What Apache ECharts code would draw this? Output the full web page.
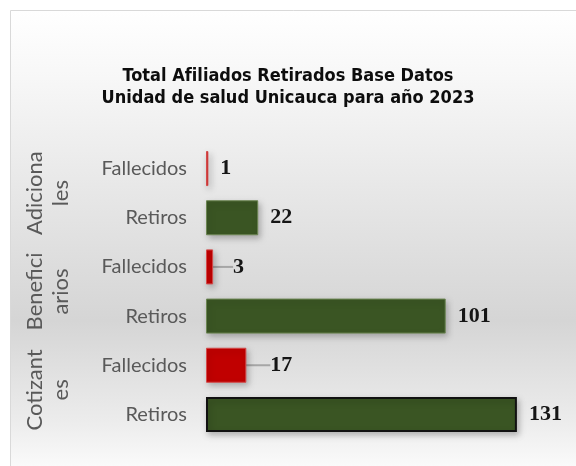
<!DOCTYPE html>
<html lang="es">
<head>
    <meta charset="UTF-8">
    <title>Total Afiliados Retirados</title>
    <style>
        html, body { margin: 0; padding: 0; background: #ffffff; }
    </style>
</head>
<body>
<div id="main" style="width: 576px;height:466px;"></div>
<script type="text/javascript" src="https://cdn.jsdelivr.net/npm/echarts@6/dist/echarts.min.js"></script>
<script>
    // datos (de abajo hacia arriba)
    var categorias = ['Retiros', 'Fallecidos', 'Retiros', 'Fallecidos', 'Retiros', 'Fallecidos'];
    var valores = [131, 17, 101, 3, 22, 1];
    var grupos = ['Cotizant\nes', 'Benefici\narios', 'Adiciona\nles'];
    var titulo = 'Total Afiliados Retirados Base Datos\nUnidad de salud Unicauca para año 2023';

    var colorRetiros = '#3a5523';
    var colorFallecidos = '#c00000';

    var myChart = echarts.init(document.getElementById('main'));

    var datos = valores.map(function (v, i) {
        var item = {
            value: v,
            itemStyle: {
                color: categorias[i] === 'Retiros' ? colorRetiros : colorFallecidos,
                borderColor: categorias[i] === 'Retiros' ? '#6b8552' : '#d44a4a',
                borderWidth: 1
            }
        };
        if (i === 0) {
            item.itemStyle.borderColor = '#111111';
            item.itemStyle.borderWidth = 2;
        }
        if (i === 1 || i === 3) {
            item.labelLine = { show: true };
        }
        return item;
    });

    var option = {
        animation: false,
        graphic: [{
            type: 'rect',
            z: -10,
            silent: true,
            shape: { x: 10.5, y: 10.5, width: 600, height: 456 },
            style: {
                fill: new echarts.graphic.LinearGradient(0, 0, 0, 1, [
                    { offset: 0, color: '#ffffff' },
                    { offset: 0.15, color: '#f7f7f7' },
                    { offset: 0.68, color: '#d5d5d5' },
                    { offset: 0.9, color: '#ececec' },
                    { offset: 1, color: '#fafafa' }
                ]),
                stroke: '#d9d9d9',
                lineWidth: 1
            }
        }],
        title: {
            text: titulo,
            left: 'center',
            top: 60,
            textStyle: {
                fontFamily: 'DejaVu Sans Condensed',
                fontWeight: 'bold',
                fontSize: 18,
                lineHeight: 22,
                color: '#0d0d0d'
            }
        },
        grid: {
            left: 206,
            right: 14,
            top: 144,
            bottom: 27
        },
        xAxis: {
            type: 'value',
            min: 0,
            max: 150,
            show: false
        },
        yAxis: [
            {
                type: 'category',
                position: 'left',
                data: categorias,
                axisLine: { show: false },
                axisTick: { show: false },
                axisLabel: {
                    interval: 0,
                    margin: 19,
                    fontFamily: 'Lato',
                    fontSize: 20,
                    color: '#595959'
                }
            },
            {
                type: 'category',
                position: 'left',
                offset: 124,
                data: grupos,
                axisLine: { show: false },
                axisTick: { show: false },
                axisLabel: {
                    interval: 0,
                    rotate: 90,
                    margin: 8,
                    fontFamily: 'Lato',
                    fontSize: 22,
                    lineHeight: 26,
                    color: '#595959'
                }
            }
        ],
        series: [
            {
                name: 'Afiliados',
                type: 'bar',
                yAxisIndex: 0,
                barWidth: 35,
                data: datos,
                itemStyle: {
                    shadowBlur: 6,
                    shadowOffsetX: 2,
                    shadowOffsetY: 3,
                    shadowColor: 'rgba(0,0,0,0.25)'
                },
                label: {
                    show: true,
                    position: 'right',
                    distance: 12,
                    fontFamily: 'Liberation Serif',
                    fontWeight: 'bold',
                    fontSize: 22,
                    color: '#151515'
                },
                labelLine: {
                    lineStyle: { color: '#a6a6a6', width: 2 }
                },
                labelLayout: function (params) {
                    if (params.dataIndex === 1) return { dx: 12 };
                    if (params.dataIndex === 3) return { dx: 8 };
                    return {};
                }
            }
        ]
    };

    myChart.setOption(option);
</script>
</body>
</html>
